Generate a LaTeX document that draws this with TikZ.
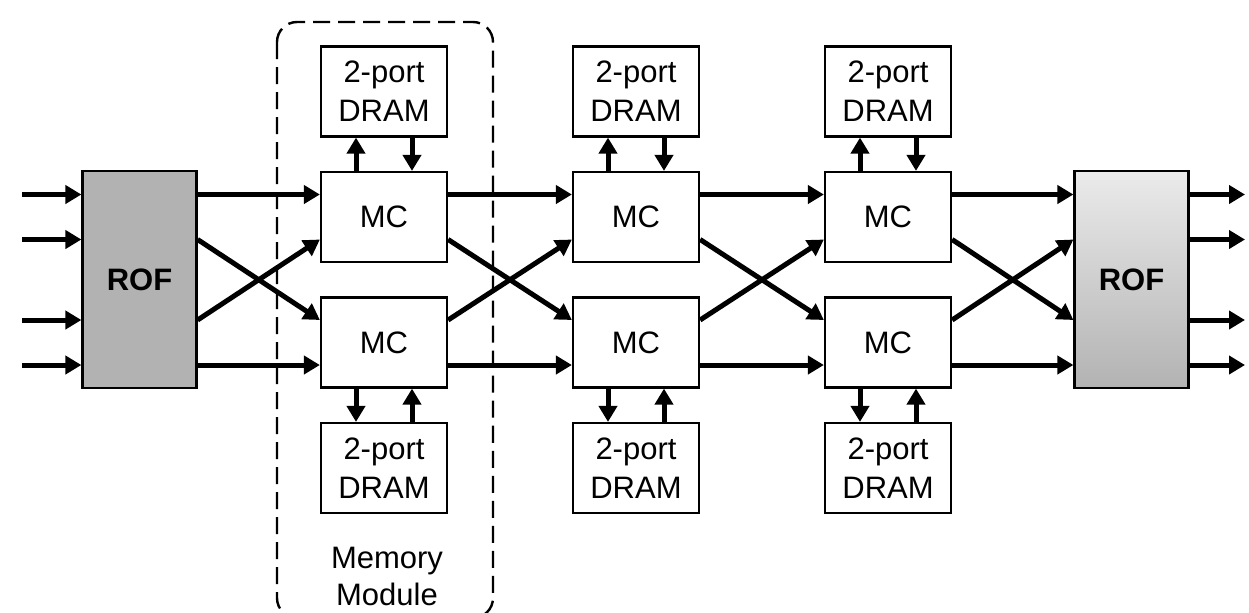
\documentclass[tikz,border=0pt]{standalone}
\usepackage{fontspec}
\setmainfont{Liberation Sans}
\usepackage{tikz}
\usetikzlibrary{arrows.meta,positioning}

\begin{document}
\begin{tikzpicture}[x=0.5pt,y=-0.5pt,
  box/.style={draw,line width=1.1pt,minimum width=63pt,minimum height=45pt,inner sep=0pt,align=center,font=\fontsize{15.5}{19.5}\selectfont},
  rof/.style={box,minimum width=57pt,minimum height=108.5pt},
  link/.style={line width=2.5pt,-{Triangle[length=8pt,width=9pt]}},
  module/.style={line width=1.2pt,dash pattern=on 8.5pt off 4pt,rounded corners=10pt}]
\useasboundingbox (0,0) rectangle (1249,612);
% reorder-fabric blocks
\node[rof,fill=black!30] (rofL) at (139.5,279.75) {\bfseries ROF};
\node[rof,top color=black!8,bottom color=black!30] (rofR) at (1131.5,279.75) {\bfseries ROF};
% memory controllers
\node[box] (mcA1) at (384,217) {MC};
\node[box] (mcA2) at (384,342.5) {MC};
\node[box] (mcB1) at (636,217) {MC};
\node[box] (mcB2) at (636,342.5) {MC};
\node[box] (mcC1) at (888,217) {MC};
\node[box] (mcC2) at (888,342.5) {MC};
% DRAMs
\node[box] (dramA1) at (384,91.5) {2-port\\DRAM};
\node[box] (dramA2) at (384,468) {2-port\\DRAM};
\node[box] (dramB1) at (636,91.5) {2-port\\DRAM};
\node[box] (dramB2) at (636,468) {2-port\\DRAM};
\node[box] (dramC1) at (888,91.5) {2-port\\DRAM};
\node[box] (dramC2) at (888,468) {2-port\\DRAM};
%
\draw[module] (277,22) rectangle (493,618);
\node[align=center,font=\fontsize{15.5}{18.5}\selectfont] (modlbl) at (387,576) {Memory\\Module};
%
% inputs and outputs
\coordinate (in1) at (22,194.5);
\coordinate (in2) at (22,239.5);
\coordinate (in3) at (22,320);
\coordinate (in4) at (22,365);
\coordinate (out1) at (1245,194.5);
\coordinate (out2) at (1245,239.5);
\coordinate (out3) at (1245,320);
\coordinate (out4) at (1245,365);
\draw[link] (in1) -- ([yshift=42.625pt]rofL.west);
\draw[link] (in2) -- ([yshift=20.125pt]rofL.west);
\draw[link] (in3) -- ([yshift=-20.125pt]rofL.west);
\draw[link] (in4) -- ([yshift=-42.625pt]rofL.west);
\draw[link] ([yshift=42.625pt]rofR.east) -- (out1);
\draw[link] ([yshift=20.125pt]rofR.east) -- (out2);
\draw[link] ([yshift=-20.125pt]rofR.east) -- (out3);
\draw[link] ([yshift=-42.625pt]rofR.east) -- (out4);
%
% ROF to first column
\draw[link] ([yshift=42.625pt]rofL.east) -- ([yshift=11.25pt]mcA1.west);
\draw[link] ([yshift=20.125pt]rofL.east) -- ([yshift=11.25pt]mcA2.west);
\draw[link] ([yshift=-20.125pt]rofL.east) -- ([yshift=-11.25pt]mcA1.west);
\draw[link] ([yshift=-42.625pt]rofL.east) -- ([yshift=-11.25pt]mcA2.west);
% first to second column
\draw[link] ([yshift=11.25pt]mcA1.east) -- ([yshift=11.25pt]mcB1.west);
\draw[link] ([yshift=-11.25pt]mcA1.east) -- ([yshift=11.25pt]mcB2.west);
\draw[link] ([yshift=11.25pt]mcA2.east) -- ([yshift=-11.25pt]mcB1.west);
\draw[link] ([yshift=-11.25pt]mcA2.east) -- ([yshift=-11.25pt]mcB2.west);
% second to third column
\draw[link] ([yshift=11.25pt]mcB1.east) -- ([yshift=11.25pt]mcC1.west);
\draw[link] ([yshift=-11.25pt]mcB1.east) -- ([yshift=11.25pt]mcC2.west);
\draw[link] ([yshift=11.25pt]mcB2.east) -- ([yshift=-11.25pt]mcC1.west);
\draw[link] ([yshift=-11.25pt]mcB2.east) -- ([yshift=-11.25pt]mcC2.west);
% third column to ROF
\draw[link] ([yshift=11.25pt]mcC1.east) -- ([yshift=42.625pt]rofR.west);
\draw[link] ([yshift=-11.25pt]mcC1.east) -- ([yshift=-20.125pt]rofR.west);
\draw[link] ([yshift=11.25pt]mcC2.east) -- ([yshift=20.125pt]rofR.west);
\draw[link] ([yshift=-11.25pt]mcC2.east) -- ([yshift=-42.625pt]rofR.west);
%
% DRAM ports
\draw[link] ([xshift=-14pt]mcA1.north) -- ([xshift=-14pt]dramA1.south);
\draw[link] ([xshift=14pt]dramA1.south) -- ([xshift=14pt]mcA1.north);
\draw[link] ([xshift=-14pt]mcA2.south) -- ([xshift=-14pt]dramA2.north);
\draw[link] ([xshift=14pt]dramA2.north) -- ([xshift=14pt]mcA2.south);
\draw[link] ([xshift=-14pt]mcB1.north) -- ([xshift=-14pt]dramB1.south);
\draw[link] ([xshift=14pt]dramB1.south) -- ([xshift=14pt]mcB1.north);
\draw[link] ([xshift=-14pt]mcB2.south) -- ([xshift=-14pt]dramB2.north);
\draw[link] ([xshift=14pt]dramB2.north) -- ([xshift=14pt]mcB2.south);
\draw[link] ([xshift=-14pt]mcC1.north) -- ([xshift=-14pt]dramC1.south);
\draw[link] ([xshift=14pt]dramC1.south) -- ([xshift=14pt]mcC1.north);
\draw[link] ([xshift=-14pt]mcC2.south) -- ([xshift=-14pt]dramC2.north);
\draw[link] ([xshift=14pt]dramC2.north) -- ([xshift=14pt]mcC2.south);
%
\end{tikzpicture}
\end{document}
